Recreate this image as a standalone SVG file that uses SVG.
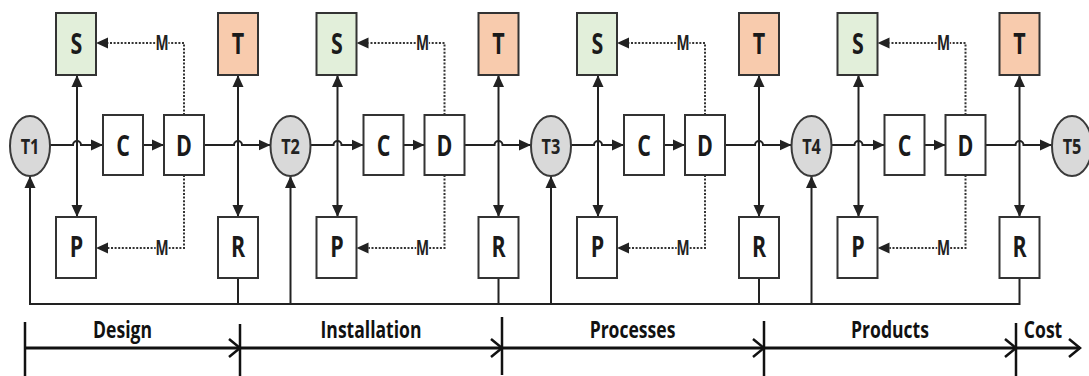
<svg xmlns="http://www.w3.org/2000/svg" width="1089" height="376" viewBox="0 0 1089 376">
<style>
.bx{stroke:#333;stroke-width:2;fill:#fff}
.sg{fill:#e2efda}
.to{fill:#f8cbad}
.ci{fill:#d9d9d9;stroke:#3a3a3a;stroke-width:2}
text{font-family:"Open Sans","Liberation Sans",sans-serif;font-weight:700;text-anchor:middle;transform-box:fill-box;transform-origin:50% 50%}
.lb{font-size:29px;fill:#1a1a1a;transform:scaleX(0.74)}
.tl{font-size:22px;fill:#222;transform:scaleX(0.74)}
.m{font-size:21px;fill:#222;stroke:#fff;stroke-width:3px;paint-order:stroke;transform:scaleX(0.66)}
.ax{font-size:22.5px;fill:#111;transform:scaleX(0.78)}
.ln{fill:none;stroke:#222;stroke-width:2}
.ar{marker-end:url(#ah)}
.ds{fill:none;stroke:#333;stroke-width:2;stroke-dasharray:2,1.6}
.axl{fill:none;stroke:#111;stroke-width:3}
.tk{fill:none;stroke:#111;stroke-width:2.5}
</style>
<defs>
<marker id="ah" viewBox="0 0 12 12" refX="12" refY="6" markerWidth="12" markerHeight="12" markerUnits="userSpaceOnUse" orient="auto-start-reverse">
<path d="M0,0.5 L12,6 L0,11.5 z" fill="#222"/>
</marker>
</defs>
<rect width="1089" height="376" fill="#fff"/>

<g id="connectors">
<path class="ln ar" d="M50,145 H73 a4,4 0 0 1 8,0 H103"/>
<path class="ln ar" d="M143,145 H164"/>
<path class="ln ar" d="M204,145 H234 a4,4 0 0 1 8,0 H270.5"/>
<path class="ln ar" d="M310.5,145 H333.5 a4,4 0 0 1 8,0 H363.5"/>
<path class="ln ar" d="M403.5,145 H424.5"/>
<path class="ln ar" d="M464.5,145 H494.5 a4,4 0 0 1 8,0 H531"/>
<path class="ln ar" d="M571,145 H594 a4,4 0 0 1 8,0 H624"/>
<path class="ln ar" d="M664,145 H685"/>
<path class="ln ar" d="M725,145 H755 a4,4 0 0 1 8,0 H791.5"/>
<path class="ln ar" d="M831.5,145 H854.5 a4,4 0 0 1 8,0 H884.5"/>
<path class="ln ar" d="M924.5,145 H945.5"/>
<path class="ln ar" d="M985.5,145 H1015.5 a4,4 0 0 1 8,0 H1052"/>
<path class="ln" d="M77,75 V217" marker-start="url(#ah)" marker-end="url(#ah)"/>
<path class="ln" d="M238,75 V217" marker-start="url(#ah)" marker-end="url(#ah)"/>
<path class="ln" d="M337.5,75 V217" marker-start="url(#ah)" marker-end="url(#ah)"/>
<path class="ln" d="M498.5,75 V217" marker-start="url(#ah)" marker-end="url(#ah)"/>
<path class="ln" d="M598,75 V217" marker-start="url(#ah)" marker-end="url(#ah)"/>
<path class="ln" d="M759,75 V217" marker-start="url(#ah)" marker-end="url(#ah)"/>
<path class="ln" d="M858.5,75 V217" marker-start="url(#ah)" marker-end="url(#ah)"/>
<path class="ln" d="M1019.5,75 V217" marker-start="url(#ah)" marker-end="url(#ah)"/>
<path class="ds" d="M184,115 V43 H108"/>
<path class="ds" d="M184,175 V248 H108"/>
<path class="ds" d="M444.5,115 V43 H368.5"/>
<path class="ds" d="M444.5,175 V248 H368.5"/>
<path class="ds" d="M705,115 V43 H629"/>
<path class="ds" d="M705,175 V248 H629"/>
<path class="ds" d="M965.5,115 V43 H889.5"/>
<path class="ds" d="M965.5,175 V248 H889.5"/>
<path class="ln ar" d="M1019.5,278 V304 H30 V176"/>
<path class="ln" d="M238,278 V304 M498.5,278 V304 M759,278 V304"/>
<path class="ln ar" d="M290.5,304 V176"/>
<path class="ln ar" d="M551,304 V176"/>
<path class="ln ar" d="M811.5,304 V176"/>
</g>

<g id="dash-arrowheads" fill="#222">
<path d="M96,43 L108,37.5 L108,48.5 z"/>
<path d="M96,248 L108,242.5 L108,253.5 z"/>
<path d="M356.5,43 L368.5,37.5 L368.5,48.5 z"/>
<path d="M356.5,248 L368.5,242.5 L368.5,253.5 z"/>
<path d="M617,43 L629,37.5 L629,48.5 z"/>
<path d="M617,248 L629,242.5 L629,253.5 z"/>
<path d="M877.5,43 L889.5,37.5 L889.5,48.5 z"/>
<path d="M877.5,248 L889.5,242.5 L889.5,253.5 z"/>
</g>

<g id="m-labels">
<text class="m" x="162" y="50.5">M</text>
<text class="m" x="162" y="255.5">M</text>
<text class="m" x="422.5" y="50.5">M</text>
<text class="m" x="422.5" y="255.5">M</text>
<text class="m" x="683" y="50.5">M</text>
<text class="m" x="683" y="255.5">M</text>
<text class="m" x="943.5" y="50.5">M</text>
<text class="m" x="943.5" y="255.5">M</text>
</g>

<g id="T1"><ellipse class="ci" cx="30" cy="146" rx="20" ry="30"/><text class="tl" x="30" y="154">T1</text></g>
<g id="T2"><ellipse class="ci" cx="290.5" cy="146" rx="20" ry="30"/><text class="tl" x="290.5" y="154">T2</text></g>
<g id="T3"><ellipse class="ci" cx="551" cy="146" rx="20" ry="30"/><text class="tl" x="551" y="154">T3</text></g>
<g id="T4"><ellipse class="ci" cx="811.5" cy="146" rx="20" ry="30"/><text class="tl" x="811.5" y="154">T4</text></g>
<g id="T5"><ellipse class="ci" cx="1072" cy="146" rx="20" ry="30"/><text class="tl" x="1072" y="154">T5</text></g>

<g id="S1"><rect class="bx sg" x="56" y="13" width="40" height="62"/><text class="lb" x="76.5" y="54">S</text></g>
<g id="Tb1"><rect class="bx to" x="218" y="13" width="40" height="62"/><text class="lb" x="238" y="54">T</text></g>
<g id="C1"><rect class="bx" x="103" y="115" width="40" height="60"/><text class="lb" x="123" y="156">C</text></g>
<g id="D1"><rect class="bx" x="164" y="115" width="40" height="60"/><text class="lb" x="184" y="156">D</text></g>
<g id="P1"><rect class="bx" x="56" y="217" width="40" height="61"/><text class="lb" x="76.5" y="257">P</text></g>
<g id="R1"><rect class="bx" x="218" y="217" width="40" height="61"/><text class="lb" x="238" y="257">R</text></g>

<g id="S2"><rect class="bx sg" x="316.5" y="13" width="40" height="62"/><text class="lb" x="337" y="54">S</text></g>
<g id="Tb2"><rect class="bx to" x="478.5" y="13" width="40" height="62"/><text class="lb" x="498.5" y="54">T</text></g>
<g id="C2"><rect class="bx" x="363.5" y="115" width="40" height="60"/><text class="lb" x="383.5" y="156">C</text></g>
<g id="D2"><rect class="bx" x="424.5" y="115" width="40" height="60"/><text class="lb" x="444.5" y="156">D</text></g>
<g id="P2"><rect class="bx" x="316.5" y="217" width="40" height="61"/><text class="lb" x="337" y="257">P</text></g>
<g id="R2"><rect class="bx" x="478.5" y="217" width="40" height="61"/><text class="lb" x="498.5" y="257">R</text></g>

<g id="S3"><rect class="bx sg" x="577" y="13" width="40" height="62"/><text class="lb" x="597.5" y="54">S</text></g>
<g id="Tb3"><rect class="bx to" x="739" y="13" width="40" height="62"/><text class="lb" x="759" y="54">T</text></g>
<g id="C3"><rect class="bx" x="624" y="115" width="40" height="60"/><text class="lb" x="644" y="156">C</text></g>
<g id="D3"><rect class="bx" x="685" y="115" width="40" height="60"/><text class="lb" x="705" y="156">D</text></g>
<g id="P3"><rect class="bx" x="577" y="217" width="40" height="61"/><text class="lb" x="597.5" y="257">P</text></g>
<g id="R3"><rect class="bx" x="739" y="217" width="40" height="61"/><text class="lb" x="759" y="257">R</text></g>

<g id="S4"><rect class="bx sg" x="837.5" y="13" width="40" height="62"/><text class="lb" x="858" y="54">S</text></g>
<g id="Tb4"><rect class="bx to" x="999.5" y="13" width="40" height="62"/><text class="lb" x="1019.5" y="54">T</text></g>
<g id="C4"><rect class="bx" x="884.5" y="115" width="40" height="60"/><text class="lb" x="904.5" y="156">C</text></g>
<g id="D4"><rect class="bx" x="945.5" y="115" width="40" height="60"/><text class="lb" x="965.5" y="156">D</text></g>
<g id="P4"><rect class="bx" x="837.5" y="217" width="40" height="61"/><text class="lb" x="858" y="257">P</text></g>
<g id="R4"><rect class="bx" x="999.5" y="217" width="40" height="61"/><text class="lb" x="1019.5" y="257">R</text></g>

<g id="axis">
<path class="axl" d="M25,348 H1080"/>
<path class="tk" d="M25,322 V376 M240,324 V376 M502,317 V375 M764,321 V376 M1016,323 V376"/>
<path class="tk" d="M229,339 L240,348 L229,357 M491,339 L502,348 L491,357 M753,339 L764,348 L753,357 M1005,339 L1016,348 L1005,357 M1069,339 L1080,348 L1069,357"/>
<text class="ax" x="122.5" y="338">Design</text>
<text class="ax" x="371" y="338">Installation</text>
<text class="ax" x="632.5" y="338">Processes</text>
<text class="ax" x="890" y="338">Products</text>
<text class="ax" x="1043" y="338">Cost</text>
</g>
</svg>
